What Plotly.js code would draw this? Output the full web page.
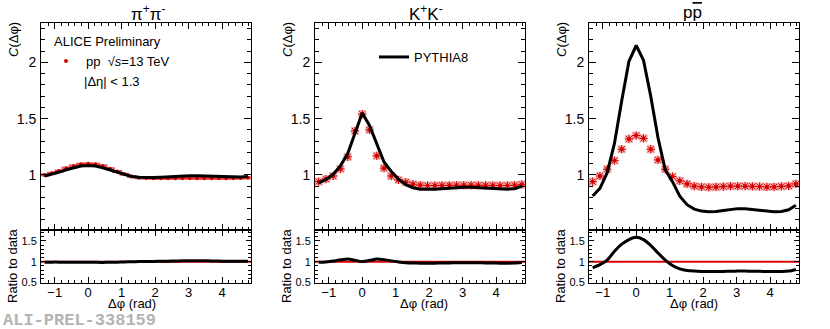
<!DOCTYPE html>
<html>
<head>
<meta charset="utf-8">
<script src="https://cdn.plot.ly/plotly-3.0.1.min.js"></script>
<style>
  body { margin: 0; background: #fff; }
  #plot { width: 830px; height: 329px; }
</style>
</head>
<body>
<div id="plot"></div>
<script>
// bin centres in delta phi (rad)
const dphi = [-1.300, -1.083, -0.867, -0.650, -0.433, -0.217, 0.000, 0.217, 0.433, 0.650,
  0.867, 1.083, 1.300, 1.517, 1.733, 1.950, 2.167, 2.383, 2.600, 2.817,
  3.033, 3.250, 3.467, 3.683, 3.900, 4.117, 4.333, 4.550, 4.767];

// pi+ pi-
const pipiData = [1.000, 1.015, 1.035, 1.060, 1.080, 1.095, 1.098, 1.095, 1.080, 1.055,
  1.030, 1.005, 0.985, 0.975, 0.972, 0.970, 0.970, 0.970, 0.970, 0.971,
  0.971, 0.970, 0.970, 0.970, 0.970, 0.970, 0.971, 0.972, 0.975];
const pipiPythia = [0.990, 1.005, 1.025, 1.045, 1.065, 1.078, 1.083, 1.078, 1.063, 1.043,
  1.020, 1.000, 0.985, 0.978, 0.976, 0.977, 0.980, 0.984, 0.988, 0.991,
  0.993, 0.993, 0.991, 0.988, 0.984, 0.981, 0.980, 0.981, 0.985];
const pipiRatio = [0.990, 0.990, 0.990, 0.986, 0.986, 0.985, 0.986, 0.985, 0.984, 0.989,
  0.990, 0.995, 1.000, 1.003, 1.004, 1.007, 1.010, 1.014, 1.019, 1.021,
  1.023, 1.024, 1.022, 1.019, 1.015, 1.011, 1.009, 1.009, 1.010];

// K+ K-
const kkData = [0.940, 0.962, 0.990, 1.053, 1.160, 1.390, 1.540, 1.400, 1.170, 1.060,
  0.990, 0.955, 0.935, 0.917, 0.908, 0.905, 0.905, 0.906, 0.907, 0.908,
  0.908, 0.908, 0.908, 0.907, 0.906, 0.905, 0.906, 0.908, 0.915];
const kkPythia = [0.928, 0.960, 1.005, 1.080, 1.190, 1.370, 1.550, 1.440, 1.270, 1.115,
  1.030, 0.962, 0.912, 0.886, 0.873, 0.870, 0.872, 0.877, 0.882, 0.887,
  0.890, 0.889, 0.886, 0.880, 0.875, 0.872, 0.873, 0.877, 0.900];
const kkRatio = [0.985, 0.995, 1.015, 1.045, 1.065, 1.035, 1.005, 1.030, 1.065, 1.050,
  1.020, 0.995, 0.978, 0.970, 0.966, 0.965, 0.966, 0.968, 0.971, 0.974,
  0.976, 0.976, 0.974, 0.971, 0.968, 0.966, 0.966, 0.968, 0.980];

// p pbar
const ppData = [0.940, 0.990, 1.050, 1.127, 1.228, 1.320, 1.350, 1.325, 1.228, 1.133,
  1.050, 0.985, 0.947, 0.920, 0.900, 0.893, 0.890, 0.893, 0.896, 0.900,
  0.900, 0.900, 0.898, 0.896, 0.893, 0.893, 0.898, 0.902, 0.920];
const ppPythia = [0.812, 0.880, 1.020, 1.280, 1.660, 2.010, 2.150, 2.020, 1.700, 1.330,
  1.045, 0.940, 0.810, 0.735, 0.696, 0.678, 0.673, 0.675, 0.684, 0.694,
  0.700, 0.698, 0.692, 0.685, 0.678, 0.673, 0.675, 0.690, 0.730];
const ppRatio = [0.855, 0.930, 1.040, 1.250, 1.420, 1.530, 1.585, 1.530, 1.390, 1.210,
  1.040, 0.910, 0.830, 0.790, 0.775, 0.768, 0.765, 0.766, 0.768, 0.772,
  0.775, 0.775, 0.773, 0.770, 0.767, 0.765, 0.766, 0.775, 0.815];

const RED = '#d40000';
const FONT = 'Liberation Sans, Arial, sans-serif';

function dataTraces(y, xa, ya, flat, legend) {
  const box = flat
    ? { x: dphi, y: y, xaxis: xa, yaxis: ya, mode: 'markers', showlegend: false, hoverinfo: 'skip',
        marker: { symbol: 'line-ew-open', size: 7, color: 'rgba(225,40,40,0.75)',
          line: { color: 'rgba(225,40,40,0.75)', width: 3 } } }
    : { x: dphi, y: y, xaxis: xa, yaxis: ya, mode: 'markers', showlegend: false, hoverinfo: 'skip',
        marker: { symbol: 'square', size: 8, color: 'rgba(235,90,90,0.45)', line: { width: 0 } } };
  const hatch = { x: dphi, y: y, xaxis: xa, yaxis: ya, mode: 'markers', showlegend: false, hoverinfo: 'skip',
    marker: { symbol: 'asterisk-open', size: 7, color: RED, line: { color: RED, width: 1 } } };
  const dot = { x: dphi, y: y, xaxis: xa, yaxis: ya, mode: 'markers', showlegend: legend, legend: 'legend',
    name: 'pp  \u221A<i>s</i>=13 TeV', marker: { symbol: 'circle', size: 4, color: RED } };
  return flat ? [box, dot] : [box, hatch, dot];
}

function modelTrace(y, xa, ya, legend) {
  return { x: dphi, y: y, xaxis: xa, yaxis: ya, mode: 'lines', name: 'PYTHIA8',
    showlegend: legend, legend: 'legend2', line: { color: '#000', width: 3 } };
}

function ratioTrace(y, xa, ya) {
  return { x: dphi, y: y, xaxis: xa, yaxis: ya, mode: 'lines', showlegend: false,
    line: { color: '#000', width: 3, shape: 'spline', smoothing: 0.6 } };
}

const traces = [].concat(
  dataTraces(pipiData, 'x', 'y', true, true),
  [modelTrace(pipiPythia, 'x', 'y', false), ratioTrace(pipiRatio, 'x2', 'y2')],
  dataTraces(kkData, 'x3', 'y3', false, false),
  [modelTrace(kkPythia, 'x3', 'y3', true), ratioTrace(kkRatio, 'x4', 'y4')],
  dataTraces(ppData, 'x5', 'y5', false, false),
  [modelTrace(ppPythia, 'x5', 'y5', false), ratioTrace(ppRatio, 'x6', 'y6')]
);

const W = 830, H = 329;
const px = v => v / W;
const py = v => 1 - v / H;

const panels = [[41, 251], [315, 525], [589, 799]];
const mainDom = [py(230), py(23)];
const ratioDom = [py(283), py(230)];
const xRange = [-1.41, 4.86];

function xAxis(dom, anchor, labels) {
  return {
    domain: dom, anchor: anchor, range: xRange, dtick: 1, tick0: 0,
    ticks: 'inside', ticklen: 6, tickwidth: 1, tickcolor: '#000',
    minor: { dtick: 0.2, ticks: 'inside', ticklen: 3, tickcolor: '#000' },
    showline: true, linecolor: '#000', linewidth: 1, mirror: 'allticks',
    showgrid: false, zeroline: false, showticklabels: labels,
    tickfont: { family: FONT, size: 13, color: '#000' }, ticklabelstandoff: -3
  };
}

function yAxis(dom, anchor, range, size) {
  return {
    domain: dom, anchor: anchor, range: range, dtick: 0.5, tick0: 0,
    ticks: 'inside', ticklen: 7, tickwidth: 1, tickcolor: '#000',
    minor: { dtick: 0.1, ticks: 'inside', ticklen: 4, tickcolor: '#000' },
    showline: true, linecolor: '#000', linewidth: 1, mirror: 'allticks',
    showgrid: false, zeroline: false,
    tickfont: { family: FONT, size: size, color: '#000' }, ticklabelstandoff: 1
  };
}

const layout = {
  width: W, height: H,
  margin: { l: 0, r: 0, t: 0, b: 0 },
  paper_bgcolor: '#fff', plot_bgcolor: '#fff',
  font: { family: FONT, size: 13, color: '#000' },
  showlegend: true,
  legend: { x: px(46), y: py(46), xanchor: 'left', yanchor: 'top', bgcolor: 'rgba(0,0,0,0)',
    font: { family: FONT, size: 13 }, itemwidth: 30 },
  legend2: { x: px(374), y: py(42), xanchor: 'left', yanchor: 'top', bgcolor: 'rgba(0,0,0,0)',
    font: { family: FONT, size: 13 }, itemwidth: 30 },
  shapes: [],
  annotations: []
};

const titles = ['\u03C0<sup>+</sup>\u03C0<sup>-</sup>', 'K<sup>+</sup>K<sup>-</sup>',
  'p<span style="text-decoration:overline">p</span>'];
const titleX = [148, 426, 692];
const xTitleX = [132, 424, 694];

panels.forEach((p, i) => {
  const dom = [px(p[0]), px(p[1])];
  const n = 2 * i + 1;
  const mx = n === 1 ? '' : String(n);
  const rx = String(n + 1);
  layout['xaxis' + mx] = xAxis(dom, 'y' + mx, false);
  layout['yaxis' + mx] = yAxis(mainDom, 'x' + mx, [0.51, 2.35], 14);
  layout['xaxis' + rx] = xAxis(dom, 'y' + rx, true);
  layout['yaxis' + rx] = yAxis(ratioDom, 'x' + rx, [0.49, 1.76], 11);
  layout['yaxis' + rx].ticklen = 5;
  layout['yaxis' + rx].minor.ticklen = 3;

  layout.shapes.push({ type: 'line', layer: 'below', xref: 'x' + rx + ' domain', yref: 'y' + rx,
    x0: 0, x1: 1, y0: 1, y1: 1, line: { color: '#e00000', width: 2 } });

  const left = p[0];
  layout.annotations.push(
    { text: titles[i], x: px(titleX[i]), y: py(13), xref: 'paper', yref: 'paper',
      showarrow: false, font: { size: 17 }, xanchor: 'center', yanchor: 'middle' },
    { text: '<i>C</i>(\u0394\u03C6)', x: px(left - 28), y: py(40), xref: 'paper', yref: 'paper',
      showarrow: false, textangle: -90, font: { size: 13 }, xanchor: 'center', yanchor: 'middle' },
    { text: 'Ratio to data', x: px(left - 29), y: py(266), xref: 'paper', yref: 'paper',
      showarrow: false, textangle: -90, font: { size: 13 }, xanchor: 'center', yanchor: 'middle' },
    { text: '\u0394\u03C6 (rad)', x: px(xTitleX[i]), y: py(303), xref: 'paper', yref: 'paper',
      showarrow: false, font: { size: 13 }, xanchor: 'center', yanchor: 'middle' }
  );
});

layout.annotations.push(
  { text: 'ALICE Preliminary', x: px(52), y: py(42), xref: 'paper', yref: 'paper',
    showarrow: false, font: { size: 13 }, xanchor: 'left', yanchor: 'middle' },
  { text: '|\u0394\u03B7| < 1.3', x: px(82), y: py(81), xref: 'paper', yref: 'paper',
    showarrow: false, font: { size: 13 }, xanchor: 'left', yanchor: 'middle' },
  { text: '<b>ALI-PREL-338159</b>', x: px(1), y: py(320), xref: 'paper', yref: 'paper',
    showarrow: false, font: { family: 'Liberation Mono, Courier New, monospace', size: 17, color: '#b4b4b4' },
    xanchor: 'left', yanchor: 'middle' }
);

Plotly.newPlot('plot', traces, layout, { staticPlot: true });
</script>
</body>
</html>
